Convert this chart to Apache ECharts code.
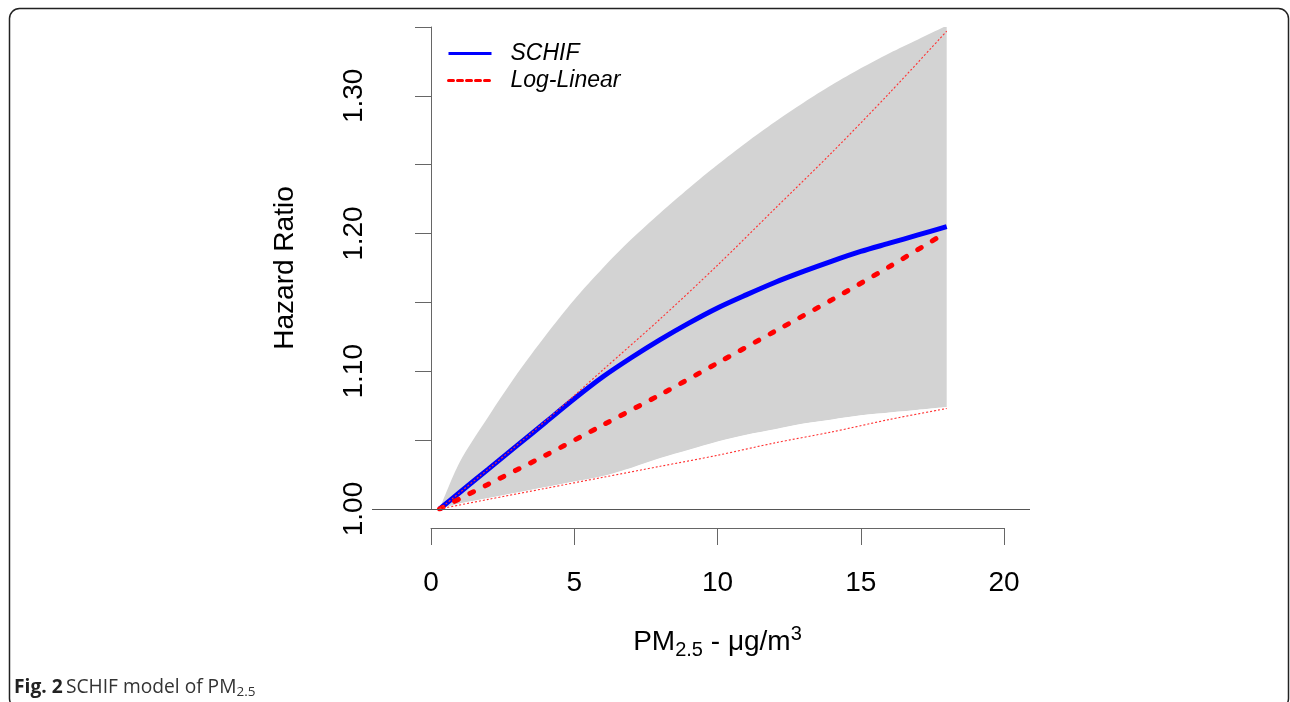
<!DOCTYPE html>
<html>
<head>
<meta charset="utf-8">
<script src="https://cdn.jsdelivr.net/npm/echarts@6/dist/echarts.min.js"></script>
<style>
html,body{margin:0;padding:0;background:#fff;}
#chart{width:1290px;height:702px;}
</style>
</head>
<body>
<div id="chart"></div>
<script>
// ---- data ----
const pmX        = [0.3, 1, 2, 3, 4, 5, 6, 7, 8, 9, 10, 11, 12, 13, 14, 15, 16, 17, 18];
const schifHR    = [1.000, 1.012, 1.029, 1.046, 1.063, 1.080, 1.096, 1.110, 1.123, 1.135, 1.146, 1.1555, 1.1645, 1.1725, 1.180, 1.187, 1.193, 1.199, 1.205];
const schifUpper = [1.000, 1.034, 1.067, 1.098, 1.126, 1.152, 1.175, 1.196, 1.215, 1.233, 1.250, 1.266, 1.281, 1.295, 1.308, 1.320, 1.331, 1.341, 1.351];
const schifLower = [1.000, 1.004, 1.008, 1.012, 1.016, 1.020, 1.024, 1.030, 1.037, 1.043, 1.049, 1.054, 1.058, 1.062, 1.065, 1.068, 1.070, 1.072, 1.074];

const llX        = [0.3, 2, 4, 6, 8, 10, 12, 14, 16, 18];
const logLinHR   = [1.000, 1.018, 1.039, 1.061, 1.083, 1.106, 1.129, 1.152, 1.176, 1.201];
const logLinUp   = [1.000, 1.029, 1.064, 1.101, 1.138, 1.177, 1.218, 1.259, 1.302, 1.347];
const logLinLow  = [1.000, 1.007, 1.015, 1.023, 1.031, 1.039, 1.048, 1.056, 1.065, 1.073];

const xTicks = [0, 5, 10, 15, 20];
const yLabelled = ['1.00', '1.10', '1.20', '1.30'];

const pair = (xa, ya) => xa.map((x, i) => [x, ya[i]]);

const FONT = '"Liberation Sans", Arial, sans-serif';
const CAP = '"Open Sans", sans-serif';
const chart = echarts.init(document.getElementById('chart'), null, {renderer: 'canvas'});

const option = {
  animation: false,
  backgroundColor: '#fff',
  grid: [
    {left: 431, right: 286, top: 27, bottom: 193, containLabel: false},
    {left: 372, right: 260, top: 27, bottom: 193, containLabel: false}
  ],
  xAxis: [
    {
      gridIndex: 0, type: 'value', min: 0, max: 20, interval: 5,
      offset: 19,
      axisLine: {show: true, lineStyle: {color: '#666', width: 1}},
      axisTick: {show: true, length: 17, lineStyle: {color: '#666'}},
      axisLabel: {
        margin: 41, color: '#000', fontSize: 28, fontFamily: FONT,
        formatter: v => xTicks.includes(v) ? String(v) : ''
      },
      splitLine: {show: false},
      name: '{a|PM}{s|2.5}{a| - μg/m}{p|3}',
      nameLocation: 'middle', nameGap: 96,
      nameTextStyle: {
        fontFamily: FONT, color: '#000',
        rich: {
          a: {fontSize: 28, fontFamily: FONT, color: '#000', lineHeight: 36},
          s: {fontSize: 20, fontFamily: FONT, color: '#000', verticalAlign: 'bottom', lineHeight: 36},
          p: {fontSize: 20, fontFamily: FONT, color: '#000', verticalAlign: 'top', lineHeight: 36}
        }
      }
    },
    {gridIndex: 1, type: 'value', min: 0, max: 1, show: false}
  ],
  yAxis: [
    {
      gridIndex: 0, type: 'value', min: 1, max: 1.35, interval: 0.05,
      offset: 27,
      axisLine: {show: true, lineStyle: {color: '#666', width: 1}},
      axisTick: {show: true, length: 16, lineStyle: {color: '#666'}},
      axisLabel: {
        rotate: 90, margin: 36, color: '#000', fontSize: 28, fontFamily: FONT,
        formatter: v => {
          const s = v.toFixed(2);
          return yLabelled.includes(s) ? s : '';
        }
      },
      splitLine: {show: false},
      name: 'Hazard Ratio', nameLocation: 'middle', nameGap: 105, nameRotate: 90,
      nameTextStyle: {fontSize: 28, fontFamily: FONT, color: '#000'}
    },
    {gridIndex: 1, type: 'value', min: 1, max: 1.35, show: false}
  ],
  legend: {
    orient: 'vertical', left: 447, top: 42, padding: 0, itemWidth: 43, itemHeight: 24, itemGap: 4,
    selectedMode: false,
    textStyle: {fontSize: 23, fontStyle: 'italic', fontFamily: FONT, color: '#000', padding: [0, 0, 0, 14]},
    data: [
      {name: 'SCHIF', itemStyle: {color: 'rgba(0,0,0,0)', opacity: 0, borderWidth: 0},
        lineStyle: {width: 3, color: '#0000ff', type: 'solid'}},
      {name: 'Log-Linear', itemStyle: {color: 'rgba(0,0,0,0)', opacity: 0, borderWidth: 0},
        lineStyle: {width: 3, color: '#ff0000', type: [5, 4]}}
    ]
  },
  series: [
    {
      name: 'hline', type: 'line', xAxisIndex: 1, yAxisIndex: 1, data: [], silent: true, z: 6,
      markLine: {symbol: 'none', silent: true, label: {show: false}, z: 6,
        lineStyle: {color: '#555', width: 1, type: 'solid'},
        data: [{yAxis: 1}]}
    },
    {
      name: 'bandUpper', type: 'line', data: pair(pmX, schifUpper), symbol: 'none',
      smooth: 0.3, silent: true, z: 1, lineStyle: {width: 0, opacity: 0},
      areaStyle: {color: '#d3d3d3', opacity: 1, origin: 'start'}
    },
    {
      name: 'bandLower', type: 'line', data: pair(pmX, schifLower), symbol: 'none',
      smooth: 0.3, silent: true, z: 2, lineStyle: {width: 0, opacity: 0},
      areaStyle: {color: '#ffffff', opacity: 1, origin: 'start',
        shadowColor: '#ffffff', shadowBlur: 0, shadowOffsetX: 1.5}
    },
    {
      name: 'SCHIF', type: 'line', data: pair(pmX, schifHR), symbol: 'none', smooth: 0.3, z: 3,
      lineStyle: {color: '#0000ff', width: 5}, itemStyle: {color: '#0000ff'}
    },
    {
      name: 'Log-Linear', type: 'line', data: pair(llX, logLinHR), symbol: 'none', smooth: 0.3, z: 4,
      lineStyle: {color: '#ff0000', width: 5, type: [4, 13], cap: 'round'}, itemStyle: {color: '#ff0000'}
    },
    {
      name: 'LL upper', type: 'line', data: pair(llX, logLinUp), symbol: 'none', smooth: 0.3, z: 5,
      lineStyle: {color: '#ff3030', width: 1.1, type: [2, 2]}
    },
    {
      name: 'LL lower', type: 'line', data: pair(llX, logLinLow), symbol: 'none', smooth: 0.3, z: 5,
      lineStyle: {color: '#ff3030', width: 1.1, type: [2, 2]}
    }
  ],
  graphic: [
    {
      type: 'rect', silent: true, z: 0,
      shape: {x: 9.5, y: 8.5, width: 1279, height: 700, r: 10},
      style: {fill: null, stroke: '#222', lineWidth: 1.5}
    },
    {
      type: 'text', left: 14, top: 678, silent: true,
      style: {
        text: '{b|Fig. 2} {n|SCHIF model of PM}{s|2.5}',
        rich: {
          b: {fontSize: 19.2, fontWeight: 'bold', fontFamily: CAP, fill: '#222', lineHeight: 24},
          n: {fontSize: 19.2, fontFamily: CAP, fill: '#333', lineHeight: 24},
          s: {fontSize: 13.5, fontFamily: CAP, fill: '#333', verticalAlign: 'bottom', lineHeight: 24}
        }
      }
    }
  ]
};
chart.setOption(option);
</script>
</body>
</html>
